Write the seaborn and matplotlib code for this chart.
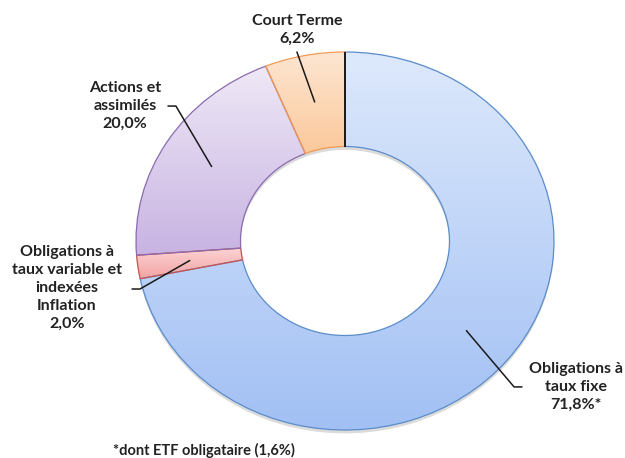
import numpy as np
import matplotlib
matplotlib.use("Agg")
import matplotlib.pyplot as plt
import matplotlib.colors as mcolors
import seaborn as sns

# data
categories = ["Obligations à\ntaux fixe", "Obligations à\ntaux variable et\nindexées\nInflation",
              "Actions et\nassimilés", "Court Terme"]
shares = [71.8, 2.0, 20.0, 6.2]
value_labels = ["71,8%*", "2,0%", "20,0%", "6,2%"]
footnote = "*dont ETF obligataire (1,6%)"

# styles: (top colour, bottom colour, edge colour)
fills = [("#dde9fc", "#a2c0f4", "#5b8ccb"),
         ("#fbd3d3", "#f3a3a3", "#c9524f"),
         ("#efe9f7", "#c8b3e2", "#8a6bb0"),
         ("#fde6d2", "#fbc89a", "#f49a52")]

# label layout: text centre, elbow start, elbow end (None = straight leader)
label_layout = [
    ((1.105, -0.772), (0.847, -0.772), (0.809, -0.772)),
    ((-1.330, -0.249), (-1.019, -0.254), (-0.981, -0.254)),
    ((-1.053, 0.714), (-0.847, 0.714), (-0.809, 0.714)),
    ((-0.230, 1.116), None, (-0.230, 1.0)),
]

sns.set_theme(style="white")
plt.rcParams['font.family'] = ['Lato', 'DejaVu Sans']

fig = plt.figure(figsize=(6.25, 4.58), dpi=100)
ax = fig.add_axes([0, 0, 1, 1])

# soft shadow under the ring
shadow, _ = ax.pie(shares, startangle=90, counterclock=False, radius=1.0,
                   center=(0.0, -0.018),
                   wedgeprops=dict(width=0.5, facecolor="#9a9a9a", edgecolor="none", alpha=0.35))

wedges, _ = ax.pie(shares, startangle=90, counterclock=False, radius=1.0,
                   wedgeprops=dict(width=0.5, linewidth=0.9))

for w, (top, bottom, edge) in zip(wedges, fills):
    ext = w.get_path().get_extents()
    cmap = mcolors.LinearSegmentedColormap.from_list("g", [bottom, top])
    grad = np.linspace(0, 1, 256).reshape(-1, 1)
    im = ax.imshow(grad, extent=[ext.x0, ext.x1, ext.y0, ext.y1], origin="lower",
                   cmap=cmap, aspect="auto", zorder=1.5, interpolation="bilinear")
    im.set_clip_path(w)
    w.set_facecolor("none")
    w.set_edgecolor(edge)
    w.set_zorder(2)

# dark separator at 12 o'clock
ax.plot([0, 0], [0.5, 1.0], color="#1a1a1a", lw=1.4, zorder=3, solid_capstyle="butt")

# leaders and labels
angles = []
start = 90.0
for s in shares:
    span = s / 100 * 360
    angles.append(start - span / 2)
    start -= span

for ang, cat, val, (txt, e0, e1) in zip(angles, categories, value_labels, label_layout):
    tip = (0.75 * np.cos(np.radians(ang)), 0.75 * np.sin(np.radians(ang)))
    xs, ys = [], []
    if e0 is not None:
        xs.append(e0[0]); ys.append(e0[1])
    xs += [e1[0], tip[0]]
    ys += [e1[1], tip[1]]
    ax.plot(xs, ys, color="#1a1a1a", lw=1.1, zorder=4)
    ax.text(txt[0], txt[1], f"{cat}\n{val}", ha="center", va="center",
            fontsize=11.5, fontweight="bold", color="#222222", linespacing=1.36, zorder=5)

fig.text(113 / 625, 8 / 458, footnote, ha="left", va="center",
         fontsize=10.5, fontweight="bold", color="#222222")

ax.set_aspect("auto")
ax.set_xlim(-345 / 209, 280 / 209)
ax.set_ylim(-217 / 189, 241 / 189)
ax.axis("off")

fig.savefig("out.png", dpi=100, facecolor="white")
